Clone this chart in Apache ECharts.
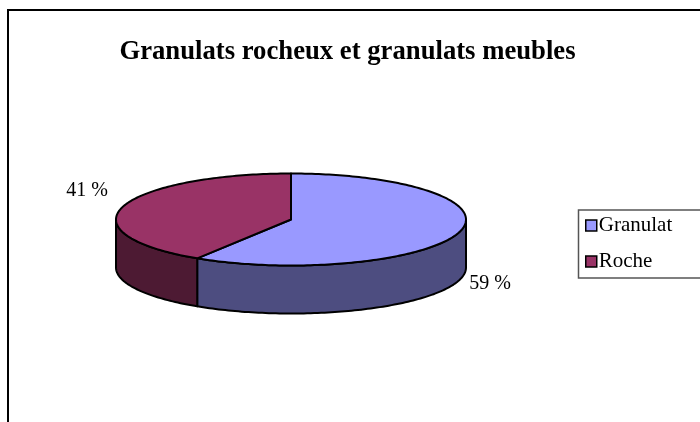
<!DOCTYPE html>
<html><head><meta charset="utf-8">
<style>html,body{margin:0;padding:0;background:#fff}#c{width:700px;height:422px}</style>
<script src="https://cdn.jsdelivr.net/npm/echarts@6/dist/echarts.min.js"></script>
</head><body><div id="c"></div>
<script>
const chartTitle = 'Granulats rocheux et granulats meubles';
const categories = ['Granulat', 'Roche'];
const values = [59, 41];
const labels = ['59 %', '41 %'];
const topColors = ['#9999FF', '#993366'];
const wallColors = ['#4D4D80', '#4D1A33'];

const SERIF = '"Liberation Serif","Times New Roman",serif';
const geo = {cx: 291, cy: 219.5, rx: 175, ry: 46, depth: 48};
const labelAt = [{x: 490, y: 284}, {x: 87, y: 191}];
const total = values.reduce((a, b) => a + b, 0);
const pt = (t, dy) => [geo.cx + geo.rx * Math.sin(t), geo.cy - geo.ry * Math.cos(t) + (dy || 0)];
function arc(a, b, dy) {
  const n = Math.max(2, Math.ceil(Math.abs(b - a) / 0.02)), out = [];
  for (let i = 0; i <= n; i++) out.push(pt(a + (b - a) * i / n, dy));
  return out;
}
function makeSeries(i) {
  const before = values.slice(0, i).reduce((a, b) => a + b, 0);
  return {
    type: 'custom', name: categories[i], coordinateSystem: 'none', silent: true,
    itemStyle: {color: topColors[i], borderColor: '#000', borderWidth: 1.5},
    data: [values[i]],
    renderItem(params, api) {
      const v = api.value(0);
      const a = before / total * 2 * Math.PI, b = a + v / total * 2 * Math.PI;
      const stroke = {stroke: '#000', lineWidth: 2, lineJoin: 'round'};
      const kids = [];
      // visible outer wall: front half of the ellipse only
      const wa = Math.max(a, Math.PI / 2), wb = Math.min(b, 1.5 * Math.PI);
      if (wb > wa) {
        kids.push({type: 'polygon', z2: 1,
          shape: {points: arc(wa, wb, 0).concat(arc(wb, wa, geo.depth))},
          style: Object.assign({fill: wallColors[i]}, stroke)});
      }
      kids.push({type: 'polygon', z2: 2,
        shape: {points: [[geo.cx, geo.cy]].concat(arc(a, b, 0))},
        style: Object.assign({fill: topColors[i]}, stroke)});
      kids.push({type: 'text', z2: 3,
        style: {x: labelAt[i].x, y: labelAt[i].y, text: labels[i], fill: '#000',
          font: '20px ' + SERIF, textAlign: 'center', textVerticalAlign: 'middle'}});
      return {type: 'group', children: kids};
    }
  };
}
const chart = echarts.init(document.getElementById('c'), null, {renderer: 'canvas'});
chart.setOption({
  animation: false,
  backgroundColor: '#fff',
  title: {text: chartTitle, left: 347.5, top: 34, textAlign: 'center',
    textStyle: {fontFamily: SERIF, fontSize: 26.7, fontWeight: 'bold', color: '#000'}},
  legend: {
    data: categories, orient: 'vertical', left: 585, top: 215, padding: 0,
    itemWidth: 11, itemHeight: 11, itemGap: 15, icon: 'rect',
    selectedMode: false,
    itemStyle: {borderColor: '#000', borderWidth: 1.5},
    textStyle: {fontFamily: SERIF, fontSize: 21, color: '#000', padding: [0, 0, 6, -3]}
  },
  graphic: [
    {type: 'polyline', silent: true, shape: {points: [[8, 422], [8, 10], [700, 10]]},
     style: {stroke: '#000', lineWidth: 2, fill: null}},
    {type: 'polyline', silent: true, shape: {points: [[700, 210], [578.5, 210], [578.5, 278], [700, 278]]},
     style: {stroke: '#555', lineWidth: 1.5, fill: null}}
  ],
  series: categories.map((_, i) => makeSeries(i))
}, {notMerge: true});
chart.setOption({title: {left: 342.5}});
</script></body></html>
